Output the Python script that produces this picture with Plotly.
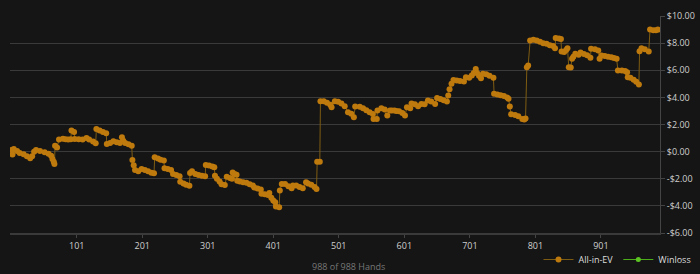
import plotly.graph_objects as go

# Hand numbers and All-in-EV values (dollars)
hands = [1, 3, 5, 10, 14, 20, 25, 30, 33, 36, 39, 45, 52, 58, 62, 64, 66, 67, 68, 71,
         74, 80, 84, 88, 92, 93, 97, 98, 104, 110, 116, 120, 126, 130, 131, 136, 141, 146, 147, 152,
         157, 162, 167, 170, 172, 175, 180, 185, 186, 188, 190, 195, 200, 205, 210, 215, 219, 220, 225, 229,
         234, 235, 240, 245, 248, 253, 258, 259, 264, 268, 273, 274, 277, 282, 287, 292, 297, 298, 303, 308,
         311, 312, 315, 319, 322, 327, 330, 335, 338, 339, 342, 345, 346, 350, 355, 360, 365, 370, 372, 377,
         382, 383, 388, 393, 395, 398, 401, 404, 405, 410, 411, 414, 419, 424, 429, 431, 436, 441, 446, 451,
         454, 459, 464, 467, 468, 472, 473, 478, 483, 488, 490, 495, 500, 505, 510, 515, 520, 524, 526, 533,
         538, 543, 548, 553, 554, 559, 560, 566, 571, 575, 579, 582, 586, 589, 593, 598, 602, 605, 610, 612,
         617, 622, 627, 632, 637, 642, 648, 651, 656, 661, 666, 668, 670, 673, 676, 681, 686, 692, 695, 700,
         704, 707, 710, 712, 715, 718, 721, 726, 731, 737, 738, 743, 748, 753, 758, 760, 762, 764, 770, 775,
         781, 784, 786, 788, 790, 793, 798, 803, 808, 813, 818, 823, 828, 831, 832, 837, 840, 841, 845, 848,
         850, 852, 855, 857, 859, 862, 867, 870, 875, 880, 885, 886, 892, 897, 899, 902, 907, 912, 917, 921,
         925, 927, 933, 938, 941, 942, 946, 951, 955, 959, 960, 963, 968, 974, 976, 981, 985, 988]

all_in_ev = [0.12, -0.22, 0.2, 0.05, -0.1, -0.2, -0.35, -0.49, -0.35, 0.0, 0.12, 0.05, -0.05, -0.15, -0.3, -0.55, -0.75, -0.91, 0.44, 0.3,
             0.89, 0.95, 0.92, 0.9, 0.92, 1.55, 1.45, 0.94, 0.92, 0.9, 1.0, 0.9, 0.75, 0.61, 1.67, 1.55, 1.45, 1.35, 0.57, 0.64,
             0.77, 0.7, 0.64, 1.06, 0.8, 0.64, 0.55, 0.44, -0.62, -1.0, -1.35, -1.45, -1.28, -1.35, -1.45, -1.55, -1.6, -0.42, -0.5, -0.6,
             -0.66, -1.23, -1.28, -1.35, -1.65, -1.72, -1.82, -2.22, -2.35, -2.45, -2.51, -1.57, -1.45, -1.65, -1.72, -1.77, -1.82, -0.98, -1.03, -1.1,
             -1.16, -1.77, -2.0, -2.2, -2.4, -2.46, -1.85, -1.95, -2.0, -1.53, -1.65, -1.7, -2.14, -2.2, -2.25, -2.3, -2.4, -2.5, -2.65, -2.72,
             -2.8, -3.1, -3.15, -3.2, -3.05, -3.4, -3.6, -3.74, -4.05, -4.11, -2.86, -2.39, -2.39, -2.55, -2.7, -2.5, -2.5, -2.6, -2.7, -2.25,
             -2.35, -2.45, -2.6, -2.76, -0.74, -0.74, 3.72, 3.72, 3.6, 3.45, 3.27, 3.72, 3.68, 3.55, 3.35, 2.9, 2.8, 2.53, 3.32, 3.3,
             3.2, 3.05, 2.9, 2.78, 2.41, 2.41, 3.03, 3.2, 3.1, 2.66, 3.03, 3.03, 3.03, 3.0, 2.98, 2.85, 2.66, 3.27, 3.2, 3.55,
             3.5, 3.35, 3.52, 3.5, 3.77, 3.7, 3.52, 3.96, 3.88, 3.78, 3.7, 4.14, 4.6, 5.0, 5.28, 5.25, 5.2, 5.17, 5.49, 5.45,
             5.61, 5.8, 6.1, 5.8, 5.6, 5.41, 5.74, 5.7, 5.6, 5.44, 4.26, 4.22, 4.15, 4.1, 4.0, 3.89, 3.32, 2.76, 2.7, 2.6,
             2.41, 2.36, 2.45, 6.23, 6.35, 8.2, 8.25, 8.2, 8.1, 8.0, 7.95, 7.85, 7.78, 7.63, 8.37, 8.35, 8.3, 7.39, 7.35, 7.5,
             7.63, 6.23, 6.2, 6.85, 7.0, 7.22, 7.15, 7.3, 7.2, 7.1, 6.92, 7.58, 7.55, 7.45, 6.85, 7.09, 7.05, 7.0, 6.95, 6.9,
             6.85, 5.98, 5.98, 5.95, 5.85, 5.49, 5.45, 5.3, 5.15, 4.95, 7.41, 7.63, 7.55, 7.39, 9.01, 8.95, 8.95, 9.0]

# Winloss series has no visible points in the reference (legend entry only)
winloss_hands = [None]
winloss = [None]

x_tick_vals = [101, 201, 301, 401, 501, 601, 701, 801, 901]
y_tick_vals = [-6, -4, -2, 0, 2, 4, 6, 8, 10]
y_tick_text = ["-$6.00", "-$4.00", "-$2.00", "$0.00", "$2.00", "$4.00", "$6.00", "$8.00", "$10.00"]

BG = "#151515"
GRID = "#3a3a3a"
FONT = "Open Sans"

fig = go.Figure()
fig.add_trace(go.Scatter(
    x=hands, y=all_in_ev, name="All-in-EV", mode="lines+markers",
    line=dict(color="#7e5c12", width=1),
    marker=dict(color="#bf7a0e", size=6, symbol="circle"),
))
fig.add_trace(go.Scatter(
    x=winloss_hands, y=winloss, name="Winloss", mode="lines+markers",
    line=dict(color="#4caf1a", width=1),
    marker=dict(color="#5cc422", size=5, symbol="circle"),
))

fig.update_layout(
    width=700, height=274,
    margin=dict(l=10, r=40, t=16, b=41, autoexpand=False),
    paper_bgcolor=BG, plot_bgcolor=BG,
    font=dict(family=FONT, size=9, color="#cfcfcf"),
    showlegend=True,
    legend=dict(orientation="h", xref="container", yref="container",
                x=0.995, xanchor="right", y=0.0, yanchor="bottom",
                font=dict(size=9, color="#dddddd"), itemwidth=30,
                bgcolor="rgba(0,0,0,0)"),
    xaxis=dict(range=[-0.8, 991.2], tickvals=x_tick_vals, showgrid=False,
               zeroline=False, showline=True, linecolor=GRID, linewidth=2,
               ticks="outside", ticklen=3, tickcolor="#444444",
               tickfont=dict(size=9, color="#cfcfcf")),
    yaxis=dict(range=[-6, 10], side="right", tickvals=y_tick_vals, ticktext=y_tick_text,
               showgrid=True, gridcolor=GRID, gridwidth=1, zeroline=False,
               showline=True, linecolor="#444444", linewidth=1,
               ticks="outside", ticklen=4, tickcolor="#444444",
               tickfont=dict(size=9, color="#cfcfcf")),
    annotations=[dict(text="988 of 988 Hands", xref="paper", yref="paper",
                      x=0.52, y=-0.155, xanchor="center", yanchor="middle",
                      showarrow=False, font=dict(size=9, color="#777777"))],
)

fig.write_html("out.html")
